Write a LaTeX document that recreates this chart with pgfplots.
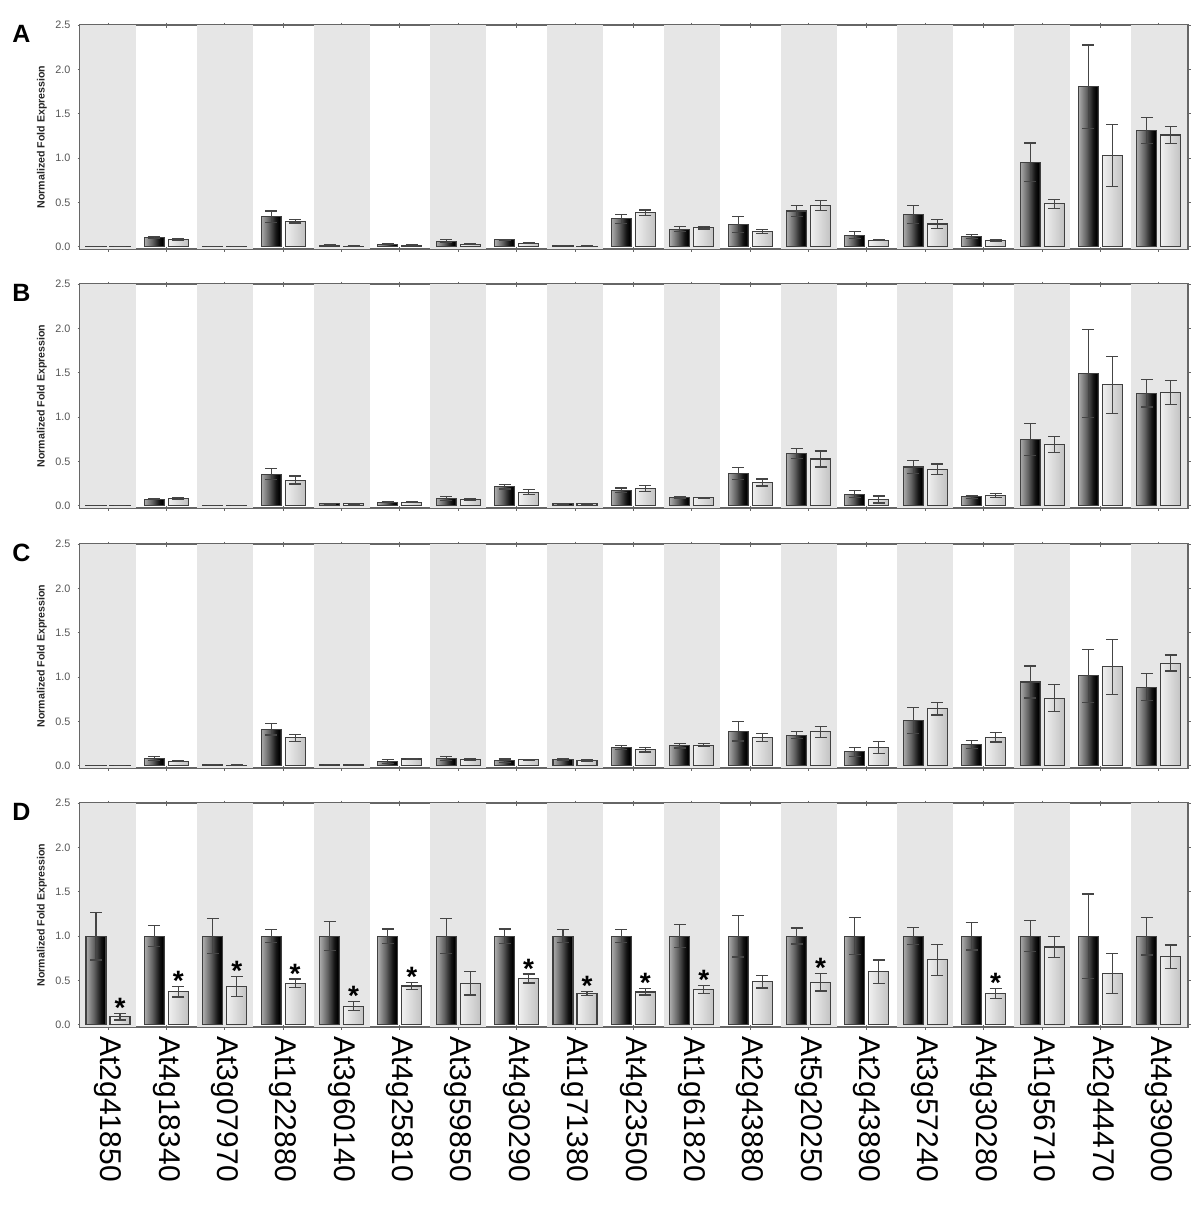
\documentclass[border=0pt]{standalone}
\usepackage{fontspec}
\setmainfont{Liberation Sans}
\usepackage{pgfplots}
\usepackage{pgfplotstable}
\pgfplotsset{compat=1.18}

\definecolor{band}{HTML}{E6E6E6}
\definecolor{axisgray}{HTML}{666666}
\definecolor{ticktext}{HTML}{555555}
\definecolor{errgray}{HTML}{454545}
\definecolor{barline}{HTML}{404040}

\pgfdeclarehorizontalshading{darkbar}{100bp}{color(0bp)=(gray!65); color(25bp)=(gray!65); color(45bp)=(black!62); color(62bp)=(black!92); color(70bp)=(black); color(75bp)=(black!75); color(100bp)=(black!75)}
\pgfdeclarehorizontalshading{lightbar}{100bp}{color(0bp)=(gray!12); color(25bp)=(gray!12); color(75bp)=(gray!48); color(100bp)=(gray!48)}

% x = gene index, d/de = dark bar and error, l/le = light bar and error
\pgfplotstableread{
x d de l le
0 0.003 0 0.003 0
1 0.105 0.015 0.086 0.010
2 0.003 0 0.003 0
3 0.338 0.065 0.286 0.018
4 0.019 0.004 0.008 0
5 0.030 0.004 0.019 0.003
6 0.064 0.015 0.030 0.008
7 0.079 0.006 0.038 0.004
8 0.015 0.003 0.008 0
9 0.315 0.050 0.385 0.030
10 0.198 0.028 0.216 0.016
11 0.254 0.090 0.172 0.025
12 0.403 0.063 0.466 0.055
13 0.130 0.040 0.075 0.008
14 0.362 0.100 0.257 0.050
15 0.115 0.020 0.070 0.008
16 0.955 0.215 0.485 0.050
17 1.805 0.470 1.026 0.350
18 1.313 0.145 1.260 0.100
}\tabA

\pgfplotstableread{
x d de l le
0 0.003 0 0.003 0
1 0.075 0.008 0.079 0.010
2 0.003 0 0.003 0
3 0.357 0.065 0.290 0.045
4 0.022 0.003 0.022 0.003
5 0.038 0.004 0.038 0.004
6 0.083 0.020 0.071 0.012
7 0.214 0.025 0.154 0.030
8 0.022 0.003 0.022 0.003
9 0.176 0.025 0.194 0.035
10 0.093 0.007 0.090 0.007
11 0.366 0.067 0.262 0.040
12 0.590 0.060 0.527 0.090
13 0.131 0.040 0.071 0.040
14 0.437 0.070 0.410 0.060
15 0.100 0.015 0.116 0.020
16 0.751 0.180 0.688 0.090
17 1.490 0.495 1.364 0.322
18 1.267 0.153 1.275 0.135
}\tabB

\pgfplotstableread{
x d de l le
0 0.003 0 0.003 0
1 0.083 0.020 0.053 0.008
2 0.015 0.003 0.008 0.002
3 0.413 0.065 0.314 0.040
4 0.015 0.003 0.015 0.003
5 0.050 0.020 0.076 0.008
6 0.083 0.022 0.072 0.012
7 0.057 0.019 0.068 0.005
8 0.072 0.011 0.060 0.007
9 0.207 0.020 0.180 0.025
10 0.225 0.025 0.233 0.020
11 0.390 0.110 0.320 0.045
12 0.346 0.040 0.383 0.060
13 0.158 0.050 0.207 0.065
14 0.508 0.146 0.643 0.070
15 0.237 0.045 0.320 0.052
16 0.944 0.180 0.763 0.150
17 1.015 0.300 1.117 0.310
18 0.887 0.155 1.158 0.090
}\tabC

% s = 1 where the light bar carries an asterisk
\pgfplotstableread{
x d de l le s
0 1 0.270 0.090 0.035 1
1 1 0.120 0.373 0.060 1
2 1 0.195 0.430 0.110 1
3 1 0.075 0.466 0.050 1
4 1 0.165 0.209 0.050 1
5 1 0.080 0.437 0.040 1
6 1 0.200 0.470 0.135 0
7 1 0.080 0.522 0.050 1
8 1 0.070 0.354 0.022 1
9 1 0.070 0.370 0.035 1
10 1 0.127 0.400 0.045 1
11 1 0.235 0.485 0.070 0
12 1 0.090 0.478 0.097 1
13 1 0.205 0.600 0.130 0
14 1 0.097 0.731 0.175 0
15 1 0.157 0.354 0.055 1
16 1 0.175 0.877 0.120 0
17 1 0.474 0.575 0.225 0
18 1 0.213 0.769 0.130 0
}\tabD

\tikzset{letter/.style={font=\fontsize{12.5}{12.5}\selectfont\bfseries, anchor=center}}

\pgfplotsset{
  panel/.style={
    scale only axis, width=554pt, height=112pt,
    anchor=north west, clip=false,
    xmin=-0.48, xmax=18.5, ymin=-0.025, ymax=2.5,
    xtick={0,...,18}, xticklabels={},
    extra x ticks={0,2,...,18}, extra x tick labels={},
    extra x tick style={grid=major, major tick length=0pt,
      major grid style={draw=band, line width=28pt}},
    ytick={0,0.5,...,2.5},
    yticklabel style={/pgf/number format/.cd, fixed, fixed zerofill, precision=1, assume math mode=true},
    tick label style={font=\fontsize{5.4}{6}\selectfont, text=ticktext},
    axis line style={axisgray, line width=0.6pt},
    tick style={axisgray, line width=0.5pt},
    major tick length=2.5pt, tick align=center,
    ylabel={Normalized Fold Expression},
    every axis y label/.style={at={(axis description cs:-0.0343,0.5)}, rotate=90,
      anchor=center, font=\fontsize{5.3}{6}\selectfont\bfseries, text=black!85},
  },
  errs/.style={/pgfplots/error bars/y dir=both, /pgfplots/error bars/y explicit,
    /pgfplots/error bars/error bar style={errgray, line width=0.55pt},
    /pgfplots/error bars/error mark options={rotate=90, errgray, mark size=3pt, line width=0.6pt}},
  darkbars/.style={ybar, bar width=10pt, bar shift=0pt, draw=barline, line width=0.55pt,
    shade, shading=darkbar, errs},
  lightbars/.style={ybar, bar width=10pt, bar shift=0pt, draw=barline, line width=0.55pt,
    shade, shading=lightbar, errs},
}

% one plot per bar, so that each bar gets its own shading
\newcommand\pairbars[1]{%
  \pgfplotsinvokeforeach{0,...,18}{%
    \addplot[darkbars, restrict expr to domain={\thisrow{x}}{##1:##1}]
      table[x expr=\thisrow{x}-0.2055, y=d, y error=de] {#1};
    \addplot[lightbars, restrict expr to domain={\thisrow{x}}{##1:##1}]
      table[x expr=\thisrow{x}+0.2055, y=l, y error=le] {#1};
  }%
}

\begin{document}
\begin{tikzpicture}
\useasboundingbox (-40pt,12.5pt) rectangle (560pt,-595pt);

\begin{axis}[panel, at={(0,0)}]
\pairbars{\tabA}
\node[letter] at (axis description cs:-0.053,0.96) {A};
\end{axis}

\begin{axis}[panel, at={(0,-129.5pt)}]
\pairbars{\tabB}
\node[letter] at (axis description cs:-0.053,0.96) {B};
\end{axis}

\begin{axis}[panel, at={(0,-259.5pt)}]
\pairbars{\tabC}
\node[letter] at (axis description cs:-0.053,0.96) {C};
\end{axis}

\begin{axis}[panel, at={(0,-389pt)},
  xticklabels={At2g41850,At4g18340,At3g07970,At1g22880,At3g60140,At4g25810,At3g59850,At4g30290,At1g71380,At4g23500,At1g61820,At2g43880,At5g20250,At2g43890,At3g57240,At4g30280,At1g56710,At2g44470,At4g39000},
  x tick label style={rotate=-90, anchor=west, font=\fontsize{15}{15}\selectfont, text=black}]
\pairbars{\tabD}
\addplot[draw=none, mark=none, nodes near coords={\bfseries *},
  every node near coord/.append style={anchor=base, yshift=-2pt, inner sep=0pt,
    font=\fontsize{14}{14}\selectfont, text=black},
  restrict expr to domain={\thisrow{s}}{0.5:1.5}]
  table[x expr=\thisrow{x}+0.2055, y expr=\thisrow{l}+\thisrow{le}] {\tabD};
\node[letter] at (axis description cs:-0.053,0.96) {D};
\end{axis}
\end{tikzpicture}
\end{document}
